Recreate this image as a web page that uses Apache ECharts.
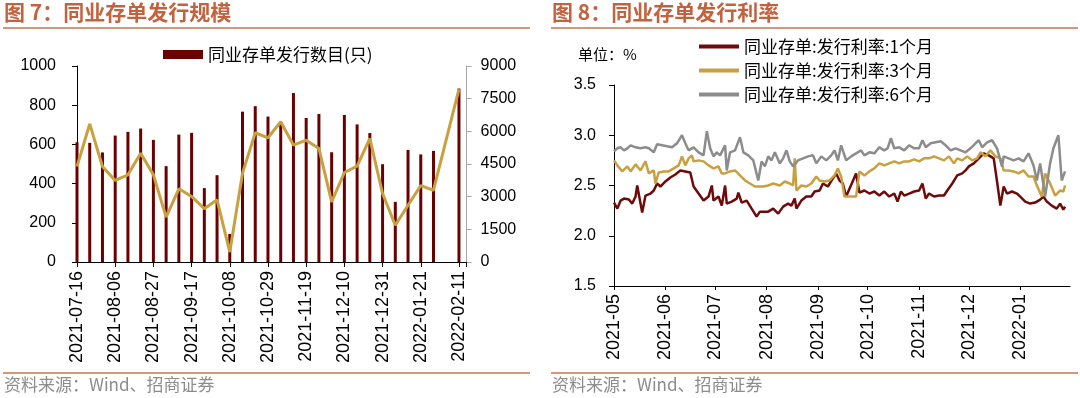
<!DOCTYPE html>
<html>
<head>
<meta charset="utf-8">
<script src="https://cdn.jsdelivr.net/npm/echarts@6/dist/echarts.min.js"></script>
<style>
  html, body { margin: 0; padding: 0; background: #fff; }
  #chart { width: 1080px; height: 398px; }
</style>
</head>
<body>
<div id="chart"></div>
<script>
// ---- 图7 同业存单发行规模 (weekly) ----
const weeks = ['2021-07-16','2021-07-23','2021-07-30','2021-08-06','2021-08-13','2021-08-20','2021-08-27',
  '2021-09-03','2021-09-10','2021-09-17','2021-09-24','2021-10-01','2021-10-08','2021-10-15','2021-10-22',
  '2021-10-29','2021-11-05','2021-11-12','2021-11-19','2021-11-26','2021-12-03','2021-12-10','2021-12-17',
  '2021-12-24','2021-12-31','2022-01-07','2022-01-14','2022-01-21','2022-01-28','2022-02-04','2022-02-11'];
// 发行数目(只), left axis
const issueCount = [611, 608, 559, 645, 664, 681, 623, 489, 650, 659, 377, 443, 143, 767, 795,
  742, 715, 862, 735, 755, 560, 750, 702, 658, 499, 307, 572, 549, 567, null, 885];
// 发行规模, right axis
const issueAmount = [4385, 6342, 4385, 3744, 4003, 4997, 4003, 2063, 3362, 3010, 2445, 2857, 458, 4080, 5934,
  5704, 6440, 5366, 5596, 5213, 2760, 4109, 4400, 5673, 3143, 1687, 2607, 3511, 3296, null, 7942];

// ---- 图8 同业存单发行利率 (%) ----
const rate1mDates = ['2021-05-01','2021-05-03','2021-05-05','2021-05-07','2021-05-10','2021-05-12','2021-05-14','2021-05-15','2021-05-17','2021-05-18','2021-05-20','2021-05-23','2021-05-25','2021-05-27','2021-05-29',
  '2021-06-01','2021-06-04','2021-06-07','2021-06-10','2021-06-13','2021-06-16','2021-06-18','2021-06-21','2021-06-24','2021-06-27','2021-06-29','2021-06-30',
  '2021-07-03','2021-07-05','2021-07-07','2021-07-08','2021-07-11','2021-07-14','2021-07-15','2021-07-17','2021-07-20','2021-07-23','2021-07-26','2021-07-28','2021-07-30',
  '2021-08-02','2021-08-05','2021-08-08','2021-08-11','2021-08-14','2021-08-16','2021-08-18','2021-08-19','2021-08-22','2021-08-25','2021-08-28','2021-08-30',
  '2021-09-02','2021-09-04','2021-09-07','2021-09-10','2021-09-12','2021-09-14','2021-09-16','2021-09-18','2021-09-24','2021-09-26','2021-09-29',
  '2021-10-02','2021-10-05','2021-10-08','2021-10-11','2021-10-14','2021-10-17','2021-10-19','2021-10-21','2021-10-23','2021-10-26','2021-10-29',
  '2021-11-01','2021-11-03','2021-11-05','2021-11-07','2021-11-10','2021-11-13','2021-11-16','2021-11-18','2021-11-21','2021-11-24','2021-11-27','2021-11-29',
  '2021-12-01','2021-12-04','2021-12-07','2021-12-10','2021-12-13','2021-12-16','2021-12-18','2021-12-20','2021-12-22','2021-12-24','2021-12-27','2021-12-30',
  '2022-01-01','2022-01-04','2022-01-07','2022-01-10','2022-01-13','2022-01-15','2022-01-17','2022-01-20','2022-01-23','2022-01-25','2022-01-27','2022-01-28'];
const rate1m = [2.33,2.27,2.35,2.37,2.36,2.32,2.39,2.50,2.32,2.23,2.40,2.42,2.45,2.52,2.49,
  2.54,2.58,2.61,2.65,2.64,2.63,2.49,2.42,2.35,2.39,2.50,2.35,
  2.39,2.30,2.50,2.32,2.34,2.37,2.43,2.33,2.35,2.27,2.19,2.24,2.24,
  2.24,2.27,2.22,2.29,2.32,2.30,2.37,2.27,2.35,2.39,2.39,2.44,
  2.45,2.52,2.49,2.57,2.62,2.55,2.52,2.39,2.62,2.43,2.45,
  2.42,2.44,2.40,2.44,2.39,2.42,2.34,2.44,2.40,2.42,2.44,
  2.45,2.52,2.37,2.42,2.39,2.40,2.40,2.45,2.52,2.60,2.62,2.65,
  2.69,2.72,2.77,2.82,2.80,2.77,2.54,2.30,2.49,2.42,2.44,2.42,
  2.39,2.34,2.32,2.33,2.36,2.39,2.34,2.30,2.27,2.32,2.26,2.29];

const rate3mDates = ['2021-05-01','2021-05-03','2021-05-06','2021-05-09','2021-05-11','2021-05-14','2021-05-17','2021-05-20','2021-05-22','2021-05-25','2021-05-26','2021-05-28','2021-05-31',
  '2021-06-03','2021-06-06','2021-06-09','2021-06-11','2021-06-13','2021-06-15','2021-06-17','2021-06-18','2021-06-21','2021-06-24','2021-06-27','2021-06-30',
  '2021-07-03','2021-07-05','2021-07-07','2021-07-10','2021-07-13','2021-07-16','2021-07-19','2021-07-22','2021-07-25','2021-07-28','2021-07-30',
  '2021-08-02','2021-08-05','2021-08-09','2021-08-12','2021-08-15','2021-08-17','2021-08-18','2021-08-19','2021-08-22','2021-08-25','2021-08-28','2021-08-31',
  '2021-09-02','2021-09-05','2021-09-08','2021-09-11','2021-09-13','2021-09-15','2021-09-17','2021-09-24','2021-09-26','2021-09-29',
  '2021-10-02','2021-10-05','2021-10-08','2021-10-11','2021-10-14','2021-10-17','2021-10-20','2021-10-23','2021-10-26','2021-10-29',
  '2021-11-01','2021-11-04','2021-11-07','2021-11-10','2021-11-13','2021-11-16','2021-11-19','2021-11-22','2021-11-24','2021-11-27','2021-11-30',
  '2021-12-03','2021-12-06','2021-12-08','2021-12-11','2021-12-14','2021-12-17','2021-12-20','2021-12-22','2021-12-25','2021-12-28','2021-12-31',
  '2022-01-03','2022-01-06','2022-01-09','2022-01-11','2022-01-14','2022-01-16','2022-01-19','2022-01-22','2022-01-25','2022-01-27','2022-01-28'];
const rate3m = [2.75,2.70,2.64,2.69,2.64,2.71,2.65,2.74,2.62,2.65,2.52,2.63,2.64,
  2.64,2.67,2.70,2.79,2.70,2.77,2.80,2.74,2.75,2.74,2.70,2.67,
  2.69,2.62,2.62,2.64,2.65,2.60,2.55,2.52,2.49,2.49,2.49,
  2.50,2.52,2.50,2.54,2.52,2.50,2.77,2.45,2.50,2.49,2.52,2.59,
  2.55,2.54,2.55,2.60,2.67,2.59,2.39,2.39,2.64,2.60,
  2.64,2.67,2.72,2.70,2.72,2.74,2.72,2.74,2.74,2.76,
  2.74,2.77,2.77,2.79,2.77,2.75,2.79,2.72,2.77,2.75,2.79,
  2.75,2.77,2.83,2.79,2.85,2.79,2.77,2.65,2.65,2.64,2.62,
  2.65,2.59,2.59,2.50,2.39,2.62,2.52,2.40,2.45,2.44,2.50];

const rate6mDates = ['2021-05-01','2021-05-03','2021-05-05','2021-05-07','2021-05-09','2021-05-11','2021-05-14','2021-05-17','2021-05-20','2021-05-22','2021-05-25','2021-05-27','2021-05-30',
  '2021-06-02','2021-06-05','2021-06-08','2021-06-11','2021-06-13','2021-06-15','2021-06-18','2021-06-21','2021-06-24','2021-06-26','2021-06-28','2021-06-30',
  '2021-07-02','2021-07-04','2021-07-07','2021-07-08','2021-07-10','2021-07-13','2021-07-16','2021-07-18','2021-07-21','2021-07-24','2021-07-27','2021-07-29','2021-07-31',
  '2021-08-02','2021-08-04','2021-08-06','2021-08-09','2021-08-11','2021-08-13','2021-08-15','2021-08-17','2021-08-20','2021-08-23','2021-08-26','2021-08-29','2021-08-31',
  '2021-09-03','2021-09-06','2021-09-09','2021-09-11','2021-09-13','2021-09-15','2021-09-18','2021-09-21','2021-09-24','2021-09-27','2021-09-29',
  '2021-10-02','2021-10-05','2021-10-08','2021-10-11','2021-10-13','2021-10-15','2021-10-17','2021-10-20','2021-10-23','2021-10-26','2021-10-29',
  '2021-11-01','2021-11-03','2021-11-05','2021-11-08','2021-11-11','2021-11-14','2021-11-17','2021-11-20','2021-11-23','2021-11-26','2021-11-29',
  '2021-12-02','2021-12-05','2021-12-07','2021-12-09','2021-12-12','2021-12-15','2021-12-18','2021-12-21','2021-12-22','2021-12-25','2021-12-28','2021-12-31',
  '2022-01-03','2022-01-06','2022-01-09','2022-01-11','2022-01-13','2022-01-16','2022-01-19','2022-01-21','2022-01-24','2022-01-26','2022-01-28'];
const rate6m = [2.84,2.87,2.88,2.85,2.87,2.90,2.88,2.87,2.88,2.87,2.83,2.91,2.90,
  2.89,2.88,2.92,3.00,2.92,2.85,2.88,2.83,2.80,3.04,2.87,2.79,
  2.83,2.80,2.90,2.65,2.83,2.85,2.98,2.83,2.80,2.75,2.55,2.74,2.69,
  2.79,2.75,2.83,2.72,2.77,2.85,2.74,2.69,2.75,2.77,2.79,2.80,2.72,
  2.79,2.75,2.80,2.85,2.75,2.90,2.75,2.79,2.82,2.85,2.80,
  2.83,2.82,2.88,2.85,2.87,2.97,2.87,2.88,2.85,2.90,2.87,
  2.87,2.95,2.88,2.92,2.93,2.94,2.90,2.85,2.87,2.85,2.83,
  2.87,2.92,2.95,2.88,2.93,2.95,2.87,2.69,2.79,2.77,2.75,2.77,
  2.74,2.82,2.70,2.55,2.72,2.39,2.72,2.87,3.00,2.55,2.64];

const numFont = 'Liberation Sans, Arial, sans-serif';
const cnFont = 'Noto Sans CJK SC, sans-serif';
const titleColor = '#C3623F';
const ruleColor = '#D8957A';

function zip(xs, ys) { return xs.map((x, i) => [x, ys[i]]); }

const chart = echarts.init(document.getElementById('chart'));

const option = {
  animation: false,
  backgroundColor: '#fff',
  textStyle: { fontFamily: cnFont },
  grid: [
    { left: 77, top: 66, width: 389.6, height: 196 },
    { left: 614, top: 85, width: 456, height: 201 }
  ],
  legend: [
    {
      data: ['同业存单发行数目(只)'],
      left: 158, top: 41,
      icon: 'rect', itemWidth: 40, itemHeight: 9, itemGap: 6,
      textStyle: { fontSize: 17, color: '#000', fontFamily: cnFont }
    },
    {
      data: ['同业存单:发行利率:1个月', '同业存单:发行利率:3个月', '同业存单:发行利率:6个月'],
      orient: 'vertical', left: 694, top: 33,
      icon: 'rect', itemWidth: 40, itemHeight: 4, itemGap: 7,
      textStyle: { fontSize: 17, lineHeight: 17, color: '#000', fontFamily: cnFont }
    }
  ],
  xAxis: [
    {
      type: 'value', gridIndex: 0, min: 0, max: 30.6, interval: 3,
      splitLine: { show: false },
      axisLine: { lineStyle: { color: '#000', width: 1 } },
      axisTick: { show: true, length: 5, inside: false, lineStyle: { color: '#000' } },
      axisLabel: {
        rotate: 90, margin: 9, fontSize: 18, color: '#000', fontFamily: numFont,
        formatter: v => (Number.isInteger(v) && v % 3 === 0 && weeks[v]) ? weeks[v] : ''
      }
    },
    {
      type: 'time', gridIndex: 1, min: '2021-05-01', max: '2022-01-31', splitNumber: 9,
      splitLine: { show: false },
      axisLine: { lineStyle: { color: '#000', width: 1 } },
      axisTick: { show: true, length: 4, lineStyle: { color: '#000' } },
      axisLabel: {
        rotate: 90, margin: 8, fontSize: 18, color: '#000', fontFamily: numFont,
        showMinLabel: true, hideOverlap: false,
        formatter: v => {
          const d = new Date(v);
          if (d.getDate() !== 1) return '';
          const m = d.getMonth() + 1;
          return d.getFullYear() + '-' + (m < 10 ? '0' + m : m);
        }
      }
    }
  ],
  yAxis: [
    {
      type: 'value', gridIndex: 0, position: 'left', offset: 1,
      min: 0, max: 1000, interval: 200,
      splitLine: { show: false },
      axisLine: { show: true, lineStyle: { color: '#000' } },
      axisTick: { show: true, length: 5, lineStyle: { color: '#000' } },
      axisLabel: { fontSize: 16, color: '#000', margin: 20, fontFamily: numFont,
        formatter: v => String(v) }
    },
    {
      type: 'value', gridIndex: 0, position: 'right',
      min: 0, max: 9000, interval: 1500,
      splitLine: { show: false },
      axisLine: { show: true, lineStyle: { color: '#a6a6a6' } },
      axisTick: { show: true, length: 5, lineStyle: { color: '#a6a6a6' } },
      axisLabel: { fontSize: 16, color: '#000', margin: 14, fontFamily: numFont,
        formatter: v => String(v) }
    },
    {
      type: 'value', gridIndex: 1, position: 'left',
      min: 1.5, max: 3.5, interval: 0.5,
      splitLine: { show: false },
      axisLine: { show: true, lineStyle: { color: '#000' } },
      axisTick: { show: true, length: 5, lineStyle: { color: '#000' } },
      axisLabel: { fontSize: 16, color: '#000', margin: 18, fontFamily: numFont,
        formatter: v => v.toFixed(1) }
    }
  ],
  series: [
    {
      name: '同业存单发行数目(只)', type: 'bar', xAxisIndex: 0, yAxisIndex: 0,
      barWidth: 3, itemStyle: { color: '#6B0000' },
      data: zip(weeks.map((w, i) => i), issueCount)
    },
    {
      name: '发行规模', type: 'line', xAxisIndex: 0, yAxisIndex: 1,
      symbol: 'none', connectNulls: true,
      lineStyle: { width: 3, color: '#C8A040' }, itemStyle: { color: '#C8A040' },
      data: zip(weeks.map((w, i) => i), issueAmount)
    },
    {
      name: '同业存单:发行利率:1个月', type: 'line', xAxisIndex: 1, yAxisIndex: 2,
      symbol: 'none', lineStyle: { width: 2.5, color: '#6E0A0A' }, itemStyle: { color: '#6E0A0A' },
      data: zip(rate1mDates, rate1m)
    },
    {
      name: '同业存单:发行利率:3个月', type: 'line', xAxisIndex: 1, yAxisIndex: 2,
      symbol: 'none', lineStyle: { width: 2.5, color: '#C8A040' }, itemStyle: { color: '#C8A040' },
      data: zip(rate3mDates, rate3m)
    },
    {
      name: '同业存单:发行利率:6个月', type: 'line', xAxisIndex: 1, yAxisIndex: 2,
      symbol: 'none', lineStyle: { width: 2.5, color: '#8C8C8C' }, itemStyle: { color: '#8C8C8C' },
      data: zip(rate6mDates, rate6m)
    }
  ],
  graphic: [
    { type: 'text', left: 4, top: 2, style: { text: '图 7：同业存单发行规模', fill: titleColor,
      font: 'bold 21px ' + cnFont } },
    { type: 'text', left: 552, top: 2, style: { text: '图 8：同业存单发行利率', fill: titleColor,
      font: 'bold 21px ' + cnFont } },
    { type: 'rect', shape: { x: 3, y: 27, width: 527, height: 2 }, style: { fill: ruleColor } },
    { type: 'rect', shape: { x: 551, y: 27, width: 527, height: 2 }, style: { fill: ruleColor } },
    { type: 'rect', shape: { x: 3, y: 372, width: 527, height: 2 }, style: { fill: ruleColor } },
    { type: 'rect', shape: { x: 551, y: 372, width: 527, height: 2 }, style: { fill: ruleColor } },
    { type: 'text', left: 4, top: 376, style: { text: '资料来源：Wind、招商证券', fill: '#8c8c8c',
      font: '17px ' + cnFont } },
    { type: 'text', left: 552, top: 376, style: { text: '资料来源：Wind、招商证券', fill: '#8c8c8c',
      font: '17px ' + cnFont } },
    { type: 'text', left: 578, top: 47, style: { text: '单位：%', fill: '#000',
      font: '15px ' + cnFont } }
  ]
};

chart.setOption(option);
</script>
</body>
</html>
